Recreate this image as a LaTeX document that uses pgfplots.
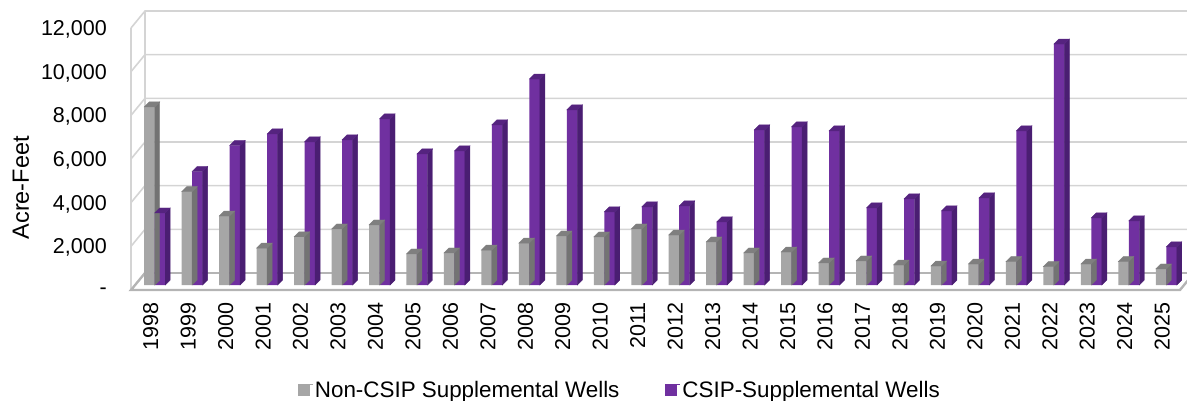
\documentclass[border=0pt]{standalone}
\usepackage{pgfplots}
\usepackage{pgfplotstable}
\usepackage{fontspec}
\setmainfont{Liberation Sans}
\pgfplotsset{compat=1.18}
\pgfdeclareplotmark{nothing}{}
\definecolor{pfront}{HTML}{7030A0}
\definecolor{pside}{HTML}{4A1E72}
\definecolor{ptop}{HTML}{55237F}
\definecolor{gfront}{HTML}{A6A6A6}
\definecolor{gside}{HTML}{737373}
\definecolor{gtop}{HTML}{7F7F7F}
\definecolor{wall}{HTML}{D4D4D4}
\pgfplotstableread{
x year grey purple
0.5 1998 8160 3300
1.5 1999 4275 5200
2.5 2000 3160 6390
3.5 2001 1690 6920
4.5 2002 2210 6555
5.5 2003 2565 6646
6.5 2004 2750 7608
7.5 2005 1420 6005
8.5 2006 1466 6143
9.5 2007 1600 7334
10.5 2008 1920 9435
11.5 2009 2245 8021
12.5 2010 2200 3348
13.5 2011 2565 3577
14.5 2012 2290 3623
15.5 2013 1970 2890
16.5 2014 1466 7104
17.5 2015 1510 7242
18.5 2016 1010 7059
19.5 2017 1100 3531
20.5 2018 916 3944
21.5 2019 870 3394
22.5 2020 960 3990
23.5 2021 1070 7059
24.5 2022 840 11038
25.5 2023 960 3073
26.5 2024 1070 2936
27.5 2025 733 1745
}\datatable
\newcommand\boxdepth[4]{% left, right, side colour, top colour
  \pgfmathsetmacro\hh{\barv*0.021833}%
  \fill[#3] (#2pt,0pt) -- (#2pt+5pt,5pt) -- (#2pt+5pt,5pt-\hh pt) -- (#2pt,-\hh pt) -- cycle;
  \fill[#4] (#1pt,0pt) -- (#1pt+5pt,5pt) -- (#2pt+5pt,5pt) -- (#2pt,0pt) -- cycle;
}
\begin{document}
\begin{tikzpicture}[x=1pt,y=1pt]
\useasboundingbox (0,0) rectangle (1187,400);
\begin{axis}[
  at={(131pt,110pt)},anchor=south west,
  scale only axis,width=1049pt,height=262pt,
  xmin=0,xmax=28,ymin=0,ymax=12000,
  clip=false,
  axis line style={draw=none},
  major tick length=0pt,
  scaled y ticks=false,
  xtick=data,
  xticklabels from table={\datatable}{year},
  ytick={0,2000,4000,6000,8000,10000,12000},
  yticklabels={-,{2,000},{4,000},{6,000},{8,000},{10,000},{12,000}},
  tick label style={font=\fontsize{21.5}{23}\selectfont,/pgf/number format/assume math mode=true},
  xticklabel style={rotate=90,anchor=east,xshift=-12pt,yshift=-1pt,inner sep=0pt},
  yticklabel style={anchor=east,xshift=-24pt,yshift=-1.5pt,inner sep=0pt},
  ylabel={Acre-Feet},
  every axis y label/.style={at={(axis description cs:-0.1049,0.39)},rotate=90,anchor=center,font=\fontsize{23.5}{25}\selectfont},
  legend columns=2,
  legend style={at={(axis description cs:0.466,-0.382)},anchor=center,draw=none,fill=none,
    font=\fontsize{22.4}{24}\selectfont,inner sep=0pt,
    /tikz/every even column/.style={column sep=44pt}},
  legend image code/.code={\path (0pt,0pt) rectangle (15pt,1pt);\fill[#1] (0pt,-10.5pt) rectangle (12pt,1.5pt);},
]
% walls and floor
\pgfplotsinvokeforeach{2000,4000,6000,8000,10000,12000}{
  \draw[wall,line width=1.6pt] (axis cs:0,#1) -- ([shift={(14pt,17pt)}]axis cs:0,#1) -- ([shift={(14pt,17pt)}]axis cs:28,#1);
}
\draw[wall,line width=1.6pt] (axis cs:0,0) -- (axis cs:0,12000);
\draw[wall,line width=1.6pt] ([shift={(14pt,17pt)}]axis cs:0,0) -- ([shift={(14pt,17pt)}]axis cs:0,12000);
\draw[wall!85!black,line width=2pt] ([shift={(14pt,17pt)}]axis cs:0,0) -- ([shift={(14pt,17pt)}]axis cs:28,0);
\draw[wall!85!black,line width=2.4pt] ([shift={(14pt,17pt)}]axis cs:0,0) -- (axis cs:0,0) -- (axis cs:28,0) -- ([shift={(14pt,17pt)}]axis cs:28,0);
% grey
\addplot[forget plot,scatter,only marks,mark=nothing,xshift=5pt,yshift=5pt,
  visualization depends on={y \as \barv},
  scatter/@pre marker code/.code={\boxdepth{-10.5}{0}{gside}{gtop}},
  scatter/@post marker code/.code={}]
  table[x=x,y=grey] {\datatable};
\addplot[ybar,bar width=10.5pt,bar shift=-5.25pt,xshift=5pt,yshift=5pt,fill=gfront,draw=none]
  table[x=x,y=grey] {\datatable};
\addlegendentry{Non-CSIP Supplemental Wells}
% purple
\addplot[forget plot,scatter,only marks,mark=nothing,xshift=5pt,yshift=5pt,
  visualization depends on={y \as \barv},
  scatter/@pre marker code/.code={\boxdepth{0}{10.5}{pside}{ptop}},
  scatter/@post marker code/.code={}]
  table[x=x,y=purple] {\datatable};
\addplot[ybar,bar width=10.5pt,bar shift=5.25pt,xshift=5pt,yshift=5pt,fill=pfront,draw=none]
  table[x=x,y=purple] {\datatable};
\addlegendentry{CSIP-Supplemental Wells}
\end{axis}
\end{tikzpicture}
\end{document}
